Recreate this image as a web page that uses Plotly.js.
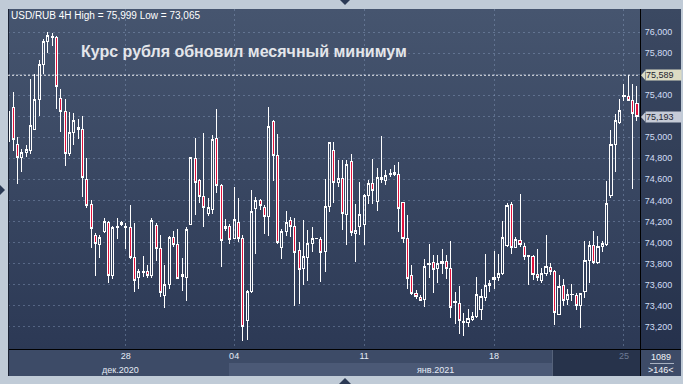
<!DOCTYPE html>
<html>
<head>
<meta charset="utf-8">
<script src="https://cdn.plot.ly/plotly-3.0.1.min.js"></script>
<style>
html,body{margin:0;padding:0;background:#c0cbd7;width:683px;height:384px;overflow:hidden;}
#bg{position:absolute;left:8px;top:9px;width:673px;height:340px;background:linear-gradient(#46556f,#2c3955);}
#chart{position:absolute;left:0;top:0;width:683px;height:384px;}
#chart .boxlayer path{shape-rendering:crispEdges;}
</style>
</head>
<body>
<div id="bg"></div>
<div id="chart"></div>
<script>
// ---- data (USD/RUB, 4H candles) ----
const open = [74.956,75.282,74.933,74.807,74.854,74.870,75.076,75.361,75.690,75.912,75.950,75.947,75.367,75.247,74.845,75.044,75.092,75.073,74.601,74.360,74.069,73.980,74.101,74.189,73.682,74.139,74.189,74.145,74.145,73.857,
73.667,73.714,73.720,73.682,74.158,73.942,73.499,73.600,74.047,73.980,73.698,73.667,74.170,74.797,74.591,74.433,74.275,74.313,74.987,74.544,74.132,74.154,74.037,74.189,74.037,73.261,73.530,74.322,74.395,74.335,
74.243,75.152,74.829,73.952,74.107,74.208,74.154,73.923,73.752,73.857,73.990,74.034,74.028,73.910,74.338,74.873,74.569,74.607,74.265,74.766,74.085,74.151,74.170,74.443,74.560,74.392,74.594,74.588,74.645,74.645,
74.645,74.379,74.037,73.689,73.515,73.477,73.458,73.790,73.809,73.752,73.796,73.819,73.752,73.429,73.420,73.242,73.236,73.271,73.293,73.363,73.473,73.587,73.651,73.663,73.705,73.974,74.360,73.948,74.021,73.964,
73.866,73.869,73.695,73.641,73.705,73.762,73.727,73.318,73.594,73.458,73.502,73.499,73.397,73.530,73.825,73.974,73.806,73.958,73.983,74.449,74.930,75.136,75.386,75.389,75.348,75.320];
const high = [75.294,75.431,75.003,74.892,74.924,75.557,75.605,75.731,75.931,75.999,75.990,75.963,75.462,75.367,75.241,75.234,75.177,75.199,74.804,74.401,74.094,74.075,74.234,74.202,74.158,74.234,74.202,74.183,74.354,74.186,
73.752,73.872,73.790,74.237,74.189,74.075,73.790,74.063,74.107,74.132,73.857,74.148,74.813,74.997,74.607,75.044,74.424,75.025,75.266,74.553,74.221,74.177,74.528,74.424,74.069,73.546,74.503,74.433,74.417,74.354,
75.288,75.161,75.035,74.126,74.297,74.243,74.237,74.005,74.211,74.116,74.145,74.040,74.050,74.601,74.956,74.956,74.781,74.781,74.781,74.842,74.370,74.576,74.465,74.591,74.797,74.712,75.009,74.693,74.702,74.740,
74.766,74.386,74.259,73.784,73.546,73.499,73.847,73.983,73.879,73.879,73.936,73.885,74.012,73.530,73.587,73.334,73.372,73.340,73.673,73.562,73.891,73.641,73.917,73.888,74.202,74.376,74.386,74.053,74.458,73.999,
73.879,73.885,73.936,73.758,74.069,73.809,73.736,73.689,73.651,73.556,73.603,73.524,73.521,74.012,74.012,74.107,74.059,74.012,74.582,75.066,75.218,75.367,75.510,75.589,75.510,75.484];
const low = [74.670,74.867,74.560,74.670,74.813,74.845,75.066,75.203,75.605,75.801,75.868,75.272,75.051,74.728,74.823,74.924,74.987,74.433,74.329,73.948,73.682,73.853,74.094,73.616,73.651,74.037,74.158,73.936,73.847,73.530,
73.562,73.673,73.663,73.667,73.822,73.483,73.378,73.562,73.958,73.651,73.537,73.442,74.164,74.259,74.379,74.148,74.253,74.268,74.474,73.768,74.110,73.983,74.031,74.005,73.065,73.070,73.524,73.891,74.306,74.085,
74.063,74.582,73.990,73.847,74.063,74.053,73.397,73.413,73.600,73.632,73.910,74.031,73.625,73.720,74.291,74.379,74.525,74.123,73.974,74.063,73.815,74.075,73.980,74.367,74.367,74.297,74.569,74.544,74.623,74.633,
74.101,73.996,73.562,73.499,73.461,73.442,73.388,73.663,73.524,73.616,73.705,73.657,73.283,73.230,73.135,73.112,73.198,73.255,73.287,73.261,73.442,73.530,73.562,73.632,73.695,73.958,73.888,73.945,73.958,73.831,
73.594,73.641,73.632,73.616,73.682,73.695,73.220,73.309,73.397,73.410,73.442,73.356,73.188,73.473,73.616,73.800,73.793,73.910,73.967,74.424,74.670,75.127,75.342,75.342,74.512,75.155];
const close = [75.241,74.978,74.807,74.854,74.883,75.114,75.361,75.690,75.912,75.969,75.956,75.481,75.241,74.845,75.044,75.158,75.070,74.614,74.354,74.132,73.990,74.050,74.196,73.682,74.145,74.151,74.170,74.151,73.857,73.635,
73.720,73.724,73.682,74.205,73.942,73.521,73.600,74.050,73.983,73.657,73.679,74.126,74.804,74.569,74.433,74.332,74.329,74.978,74.537,74.018,74.151,74.028,74.221,74.037,73.198,73.537,74.297,74.401,74.354,74.246,
75.098,74.829,73.996,74.107,74.189,74.151,73.904,73.743,73.869,73.990,74.037,74.037,73.904,74.338,74.949,74.569,74.607,74.275,74.740,74.094,74.110,74.265,74.449,74.560,74.496,74.614,74.617,74.636,74.655,74.661,
74.322,74.037,73.657,73.515,73.483,73.448,73.774,73.800,73.743,73.800,73.819,73.752,73.378,73.442,73.255,73.249,73.277,73.299,73.505,73.483,73.594,73.606,73.667,73.705,74.047,74.354,73.952,74.028,73.980,73.863,
73.872,73.695,73.663,73.705,73.774,73.720,73.334,73.584,73.448,73.505,73.508,73.397,73.511,73.828,73.967,73.806,73.964,73.990,74.370,74.933,75.161,75.253,75.393,75.348,75.225,75.193];
const dayTickIdx = [27, 52, 82, 112, 142];
const dayTickText = ['28', '04', '11', '18', '25'];
const monthLabels = ['дек.2020', 'янв.2021'];
const priceTicks = [73.2, 73.4, 73.6, 73.8, 74.0, 74.2, 74.4, 74.6, 74.8, 75.0, 75.2, 75.4, 75.6, 75.8, 76.0];
const markLevel = 75.589;
const symbolText = 'USD/RUB 4H';
const titleText = 'Курс рубля обновил месячный минимум';
const counterText = '1089';

// ---- helpers ----
const FONT = 'Liberation Sans, Arial, sans-serif';
const px = v => (v - 8) / 632;          // pixel x -> paper x
const py = v => (349 - v) / 340;        // pixel y -> paper y
const fmt = v => v.toFixed(3).replace('.', ',');
const idx = open.map((_, i) => i);
const hi = Math.max(...high), lo = Math.min(...low);
const last = close[close.length - 1];
const pxPerUnit = 340 / (76.2185 - 72.988);

const trace = {
  type: 'candlestick', x: idx, open: open, high: high, low: low, close: close,
  increasing: {line: {color: '#ffffff', width: 1}, fillcolor: 'rgba(0,0,0,0)'},
  decreasing: {line: {color: '#ffffff', width: 1}, fillcolor: '#e2123c'},
  whiskerwidth: 0, hoverinfo: 'skip', showlegend: false
};

const ticktext = dayTickText.map((t, i) => i === dayTickText.length - 1 ? '<span style="color:#6d7b95">' + t + '</span>' : t);

function tri(x0, y0, x1, y1, x2, y2, color) {
  return {type: 'path', xref: 'paper', yref: 'paper', layer: 'above',
    path: `M${px(x0)},${py(y0)} L${px(x1)},${py(y1)} L${px(x2)},${py(y2)} Z`,
    fillcolor: color, line: {width: 0}};
}
function rect(x0, y0, x1, y1, color, layer) {
  return {type: 'rect', xref: 'paper', yref: 'paper', layer: layer || 'below',
    x0: px(x0), x1: px(x1), y0: py(y1), y1: py(y0), fillcolor: color, line: {width: 0}};
}
function hline(x0, x1, y, color, w) {
  return {type: 'line', xref: 'paper', yref: 'paper', layer: 'above',
    x0: px(x0), x1: px(x1), y0: py(y), y1: py(y), line: {color: color, width: w || 1}};
}
function vline(x, y0, y1, color, w) {
  return {type: 'line', xref: 'paper', yref: 'paper', layer: 'above',
    x0: px(x), x1: px(x), y0: py(y0), y1: py(y1), line: {color: color, width: w || 1}};
}
function priceArrow(v, color) {
  const d = 4.5 / pxPerUnit;
  return {type: 'path', xref: 'paper', yref: 'y', layer: 'above',
    path: `M${px(641)},${v} L${px(645)},${v + d} L${px(645)},${v - d} Z`,
    fillcolor: color, line: {width: 0}};
}

const shapes = [
  rect(641, 9, 681, 349, 'rgba(8,14,30,0.16)'),
  rect(8, 349, 681, 376, '#3d4b67'),
  rect(229, 363, 552, 376, '#4b5976'),
  rect(552, 350, 640, 376, '#27334b'),
  vline(552.5, 350, 376, '#55627a'),
  vline(640.5, 9, 376, '#000000'),
  hline(8, 681, 349.5, '#000000'),
  vline(8.5, 9, 376, '#1a2234'),
  hline(650, 674, 363.5, '#a9b2c2'),
  {type: 'line', xref: 'paper', yref: 'y', layer: 'above', x0: 0, x1: 1, y0: markLevel, y1: markLevel,
   line: {color: 'rgba(255,255,255,0.9)', width: 1, dash: '2px,2px'}},
  priceArrow(markLevel, '#dcdcc4'),
  priceArrow(last, '#c6cbd7'),
  tri(340, 0, 350, 0, 345, 5, '#2b3a55'),
  tri(339, 384, 351, 384, 345, 378, '#2b3a55'),
  tri(0, 185, 0, 195, 5, 190, '#2b3a55')
];

const ann = (text, x, y, opts) => Object.assign({text: text, x: x, y: y, xref: 'paper', yref: 'paper',
  showarrow: false, xanchor: 'left', yanchor: 'middle', borderpad: 0,
  font: {family: FONT, size: 9, color: '#ffffff'}}, opts || {});

const annotations = [
  ann(`${symbolText} High = ${fmt(hi)} Low = ${fmt(lo)}`, px(10), py(15), {font: {family: FONT, size: 10, color: '#ffffff'}}),
  ann('<b>' + titleText + '</b>', px(80), py(51.5), {font: {family: FONT, size: 16, color: '#e4e6ea'}}),
  ann(monthLabels[0], px(120), py(369.5), {xanchor: 'center', font: {family: FONT, size: 9, color: '#e6ecf6'}}),
  ann(monthLabels[1], px(435), py(369.5), {xanchor: 'center', font: {family: FONT, size: 9, color: '#e6ecf6'}}),
  ann(counterText, px(661), py(356.5), {xanchor: 'center', font: {family: FONT, size: 9, color: '#f2f4f8'}}),
  ann('&gt;' + open.length + '&lt;', px(661), py(369.5), {xanchor: 'center', font: {family: FONT, size: 9, color: '#f2f4f8'}}),
  ann(fmt(markLevel), 1, markLevel, {yref: 'y', xshift: 5, bgcolor: '#dcdcc4', width: 35, height: 10, align: 'left',
    font: {family: FONT, size: 9, color: '#1e2430'}}),
  ann(fmt(last), 1, last, {yref: 'y', xshift: 5, bgcolor: '#c6cbd7', width: 35, height: 10, align: 'left',
    font: {family: FONT, size: 9, color: '#1e2430'}})
];

const layout = {
  width: 683, height: 384,
  margin: {l: 8, r: 43, t: 9, b: 35, pad: 0},
  paper_bgcolor: 'rgba(0,0,0,0)', plot_bgcolor: 'rgba(0,0,0,0)',
  separators: ',.',
  showlegend: false, hovermode: false, dragmode: false,
  xaxis: {
    type: 'linear', range: [-0.2, 145.7], rangeslider: {visible: false},
    tickmode: 'array', tickvals: dayTickIdx, ticktext: ticktext,
    showgrid: true, gridcolor: 'rgba(150,170,205,0.38)', griddash: '2px,3px', gridwidth: 1,
    zeroline: false, showline: false, ticks: '',
    tickfont: {family: FONT, size: 9, color: '#e6ecf6'}, fixedrange: true
  },
  yaxis: {
    side: 'right', range: [72.988, 76.2185], tickmode: 'array', tickvals: priceTicks, tickformat: '.3f',
    showgrid: true, gridcolor: 'rgba(150,170,205,0.38)', griddash: '2px,3px', gridwidth: 1,
    zeroline: false, showline: false, ticks: 'outside', ticklen: 2, tickcolor: 'rgba(0,0,0,0)',
    tickfont: {family: FONT, size: 9, color: '#d2def5'}, fixedrange: true
  },
  shapes: shapes,
  annotations: annotations
};

Plotly.newPlot('chart', [trace], layout, {displayModeBar: false, staticPlot: true});
</script>
</body>
</html>
